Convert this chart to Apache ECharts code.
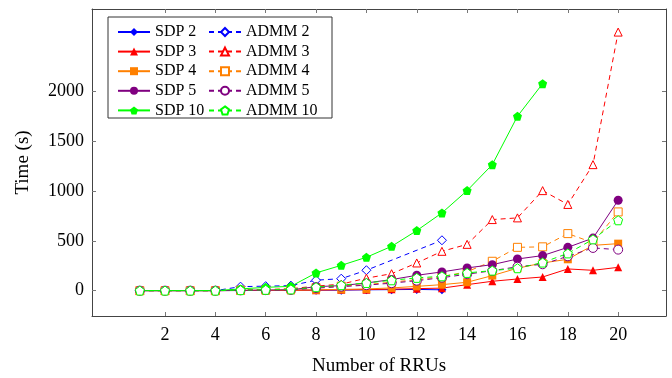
<!DOCTYPE html>
<html>
<head>
<meta charset="utf-8">
<script src="https://cdn.jsdelivr.net/npm/echarts@6/dist/echarts.min.js"></script>
<style>
html, body { margin: 0; padding: 0; background: #fff; }
#chart { width: 672px; height: 378px; }
</style>
</head>
<body>
<div id="chart"></div>
<script>
// number of RRUs
var rrus = [1, 2, 3, 4, 5, 6, 7, 8, 9, 10, 11, 12, 13, 14, 15, 16, 17, 18, 19, 20];
var xTicks = [2, 4, 6, 8, 10, 12, 14, 16, 18, 20];
var yTicks = [0, 500, 1000, 1500, 2000];

// time (s)
var sdp2 = [0, 0, 0, 0, 1, 2, 3, 4, 5, 8, 10, 12, 8];
var admm2 = [0, 0, 0, 0, 40, 45, 50, 105, 120, 205, null, null, 506];
var sdp3 = [0, 0, 0, 0, 1, 2, 3, 5, 8, 10, 15, 20, 25, 60, 94, 117, 137, 218, 204, 234];
var admm3 = [0, 0, 0, 0, 5, 10, 20, 45, 65, 125, 170, 278, 395, 465, 714, 731, 1005, 866, 1266, 2598];
var sdp4 = [0, 0, 0, 0, 2, 3, 5, 8, 12, 17, 27, 43, 60, 84, 151, 225, 278, 315, 455, 472];
var admm4 = [0, 0, 0, 0, 5, 10, 15, 30, 45, 60, 85, 110, 140, 190, 295, 435, 440, 573, 482, 791];
var sdp5 = [0, 0, 0, 0, 3, 5, 8, 40, 50, 77, 111, 154, 188, 228, 261, 318, 352, 435, 528, 908];
var admm5 = [0, 0, 0, 0, 3, 5, 8, 25, 40, 55, 75, 100, 130, 165, 200, 240, 265, 345, 429, 412];
var sdp10 = [0, 0, 0, 0, 17, 33, 43, 178, 254, 335, 445, 603, 781, 1005, 1266, 1752, 2080];
var admm10 = [0, 0, 0, 0, 5, 8, 12, 35, 55, 77, 104, 128, 144, 178, 201, 225, 282, 374, 515, 707];

var pentagon = 'path://M0,-10 L9.51,-3.09 L5.88,8.09 L-5.88,8.09 L-9.51,-3.09 Z';
var font = '"Liberation Serif", "DejaVu Serif", serif';

function pairs(vals) {
    return vals.map(function(v, i) {
        return [rrus[i], v];
    });
}

function mk(name, vals, color, symbol, dashed, hollow, size) {
    return {
        name: name,
        type: 'line',
        data: pairs(vals),
        connectNulls: true,
        symbol: symbol,
        symbolSize: size || 8,
        showAllSymbol: true,
        color: color,
        itemStyle: hollow ? { color: '#fff', borderColor: color, borderWidth: 1 } : { color: color },
        lineStyle: { color: color, width: 1, type: dashed ? [5, 4] : 'solid' },
        emphasis: { disabled: true },
        animation: false
    };
}

var chart = echarts.init(document.getElementById('chart'));

var tickStyle = { show: true, inside: true, length: 4, lineStyle: { color: '#777', width: 1 } };
var lineStyle = { show: true, onZero: false, lineStyle: { color: '#444', width: 1 } };
var legendText = { fontFamily: font, fontSize: 16, lineHeight: 16, color: '#000' };

var option = {
    backgroundColor: '#fff',
    animation: false,
    grid: { left: 92, right: 6, top: 9, bottom: 62, containLabel: false, outerBoundsMode: 'none' },
    legend: [{
        data: ['SDP 2', 'SDP 3', 'SDP 4', 'SDP 5', 'SDP 10'],
        orient: 'vertical',
        left: 112, top: 19,
        itemWidth: 32, itemHeight: 10, itemGap: 3.6,
        textStyle: legendText,
        z: 10
    }, {
        data: ['ADMM 2', 'ADMM 3', 'ADMM 4', 'ADMM 5', 'ADMM 10'],
        orient: 'vertical',
        left: 203, top: 19,
        itemWidth: 32, itemHeight: 10, itemGap: 3.6,
        textStyle: legendText,
        z: 10
    }],
    graphic: [{
        type: 'rect',
        shape: { x: 108, y: 17, width: 224, height: 101 },
        style: { fill: '#fff', stroke: '#333', lineWidth: 1 },
        z: 5
    }],
    xAxis: [{
        type: 'value',
        min: -0.9, max: 21.9,
        position: 'bottom',
        axisLine: lineStyle,
        axisTick: Object.assign({ customValues: xTicks }, tickStyle),
        axisLabel: { customValues: xTicks, fontFamily: font, fontSize: 18, color: '#000', margin: 10 },
        splitLine: { show: false },
        name: 'Number of RRUs',
        nameLocation: 'middle',
        nameGap: 41,
        nameTextStyle: { fontFamily: font, fontSize: 19, color: '#000' }
    }, {
        type: 'value',
        min: -0.9, max: 21.9,
        position: 'top',
        axisLine: lineStyle,
        axisTick: Object.assign({ customValues: xTicks }, tickStyle),
        axisLabel: { show: false },
        splitLine: { show: false }
    }],
    yAxis: [{
        type: 'value',
        min: -255, max: 2830,
        position: 'left',
        axisLine: lineStyle,
        axisTick: Object.assign({ customValues: yTicks }, tickStyle),
        axisLabel: {
            customValues: yTicks, fontFamily: font, fontSize: 18, color: '#000', margin: 8,
            formatter: function(v) { return String(v); }
        },
        splitLine: { show: false },
        name: 'Time (s)',
        nameLocation: 'middle',
        nameRotate: 90,
        nameGap: 59,
        nameTextStyle: { fontFamily: font, fontSize: 19, color: '#000' }
    }, {
        type: 'value',
        min: -255, max: 2830,
        position: 'right',
        axisLine: lineStyle,
        axisTick: Object.assign({ customValues: yTicks }, tickStyle),
        axisLabel: { show: false },
        splitLine: { show: false }
    }],
    series: [
        mk('SDP 2', sdp2, '#0000ff', 'diamond', false, false, 9),
        mk('ADMM 2', admm2, '#0000ff', 'diamond', true, true, 9),
        mk('SDP 3', sdp3, '#ff0000', 'triangle', false, false, 8),
        mk('ADMM 3', admm3, '#ff0000', 'triangle', true, true, 8),
        mk('SDP 4', sdp4, '#ff8000', 'rect', false, false, 8),
        mk('ADMM 4', admm4, '#ff8000', 'rect', true, true, 8),
        mk('SDP 5', sdp5, '#800080', 'circle', false, false, 9),
        mk('ADMM 5', admm5, '#800080', 'circle', true, true, 9),
        mk('SDP 10', sdp10, '#00ff00', pentagon, false, false, 9),
        mk('ADMM 10', admm10, '#00ff00', pentagon, true, true, 9)
    ]
};

chart.setOption(option);
</script>
</body>
</html>
